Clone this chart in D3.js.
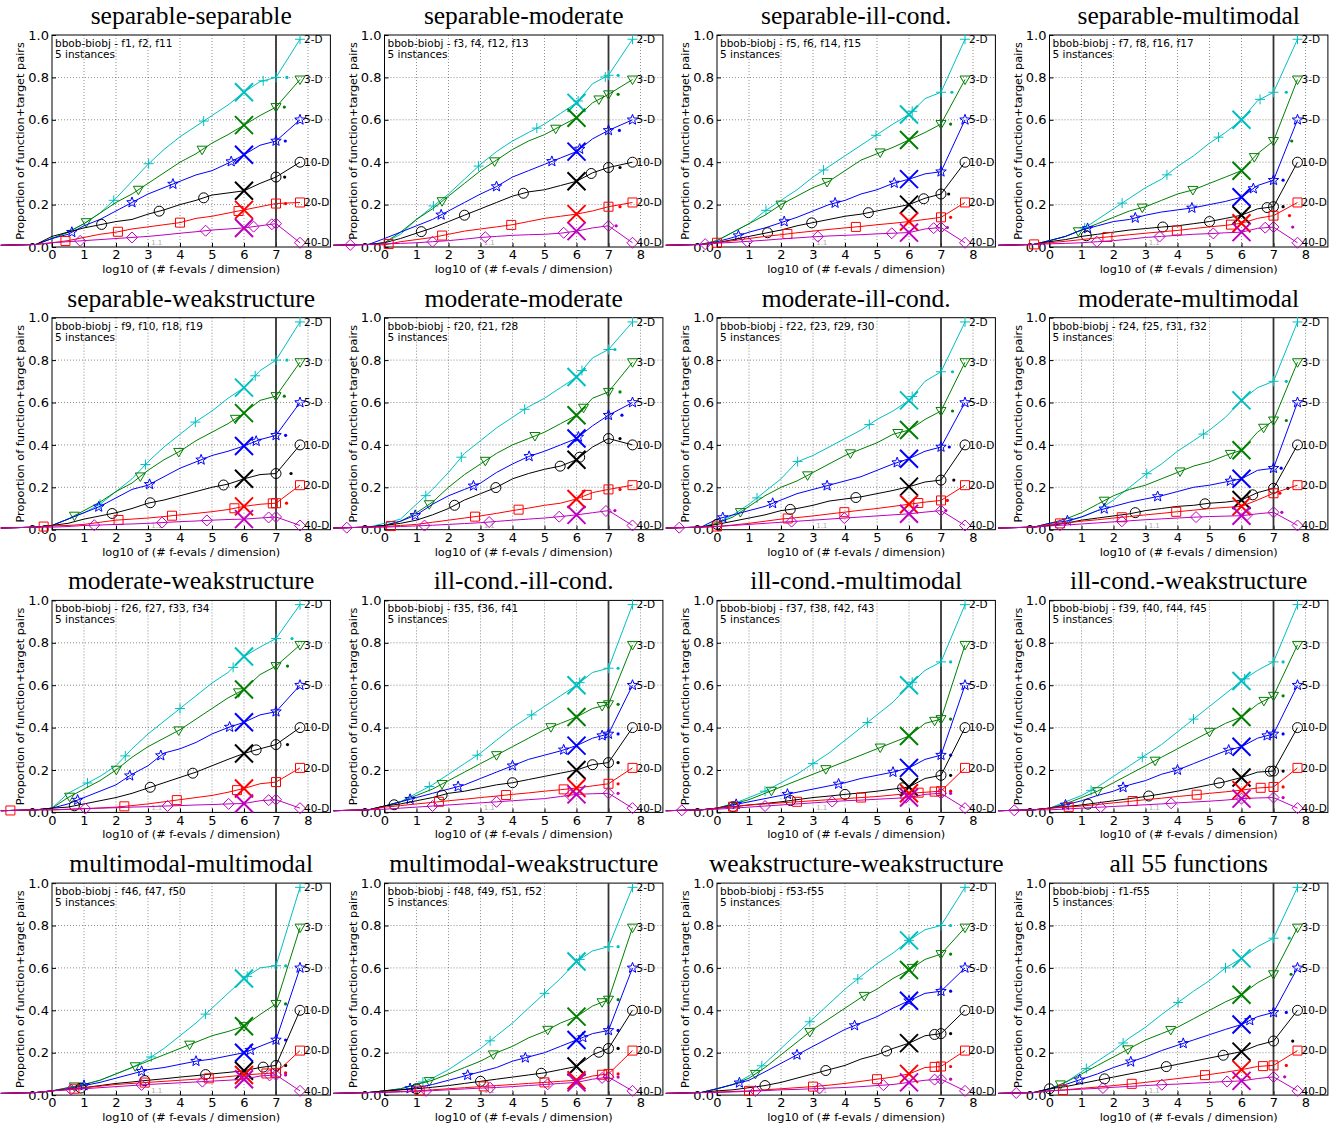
<!DOCTYPE html>
<html>
<head>
<meta charset="utf-8">
<script src="https://cdn.jsdelivr.net/npm/d3@7"></script>
<style>
body { margin: 0; background: #fff; }
text { font-family: "DejaVu Sans", sans-serif; }
.title { font-family: "Liberation Serif", serif; font-size: 25.5px; }
</style>
</head>
<body>
<svg width="1341" height="1129"></svg>
<script>
// dimensions and where each line ends on the right
const dims = ["2-D", "3-D", "5-D", "10-D", "20-D", "40-D"];
const dimEnd = [0.98, 0.79, 0.60, 0.40, 0.21, 0.02];
const endX = 7.75;
const budgets = [0, 0.5, 1, 1.5, 2, 2.5, 3, 3.5, 4, 4.5, 5, 5.5, 6, 6.5, 7];
const tailX = [-1.6, -0.5];
const tailY = [0.008, 0.012];

const titles = ["separable-separable", "separable-moderate", "separable-ill-cond.", "separable-multimodal",
  "separable-weakstructure", "moderate-moderate", "moderate-ill-cond.", "moderate-multimodal",
  "moderate-weakstructure", "ill-cond.-ill-cond.", "ill-cond.-multimodal", "ill-cond.-weakstructure",
  "multimodal-multimodal", "multimodal-weakstructure", "weakstructure-weakstructure", "all 55 functions"];
const funcs = ["f1, f2, f11", "f3, f4, f12, f13", "f5, f6, f14, f15", "f7, f8, f16, f17",
  "f9, f10, f18, f19", "f20, f21, f28", "f22, f23, f29, f30", "f24, f25, f31, f32",
  "f26, f27, f33, f34", "f35, f36, f41", "f37, f38, f42, f43", "f39, f40, f44, f45",
  "f46, f47, f50", "f48, f49, f51, f52", "f53-f55", "f1-f55"];

// proportion of solved pairs at each budget, one row per dimension
const sepSepY = [
  [0.04,0.07,0.11,0.16,0.23,0.31,0.39,0.46,0.52,0.57,0.62,0.67,0.73,0.78,0.80],
  [0.04,0.07,0.11,0.16,0.21,0.25,0.30,0.35,0.40,0.44,0.49,0.53,0.575,0.62,0.66],
  [0.04,0.06,0.10,0.13,0.17,0.21,0.25,0.28,0.31,0.34,0.36,0.395,0.435,0.48,0.50],
  [0.05,0.07,0.09,0.105,0.12,0.13,0.155,0.175,0.20,0.22,0.245,0.255,0.265,0.30,0.33],
  [0.02,0.03,0.045,0.06,0.07,0.085,0.095,0.105,0.115,0.135,0.145,0.16,0.175,0.19,0.205],
  [0.02,0.025,0.03,0.035,0.04,0.045,0.05,0.057,0.065,0.072,0.08,0.085,0.09,0.10,0.11]];
const sepSepMarks = [[1.93,3.02,4.74,6.6,7],[1.07,2.7,4.69,7],[0.62,2.5,3.78,5.6,7],[1.55,3.35,4.74,7],[0.42,2.06,4.0,5.83,7],[0.88,2.5,4.8,6.3,6.87,7]];
const sepSepDots = [7.34,7.26,7.29,7.27,7.3,null];

const sepModY = [
  [0.02,0.06,0.13,0.19,0.25,0.32,0.39,0.45,0.50,0.54,0.58,0.63,0.68,0.77,0.81],
  [0.02,0.07,0.13,0.18,0.24,0.30,0.36,0.41,0.46,0.50,0.53,0.57,0.61,0.68,0.72],
  [0.04,0.07,0.10,0.13,0.17,0.21,0.25,0.285,0.33,0.36,0.39,0.42,0.45,0.51,0.55],
  [0.02,0.04,0.065,0.09,0.12,0.15,0.18,0.21,0.24,0.26,0.27,0.29,0.31,0.35,0.375],
  [0.01,0.025,0.035,0.045,0.06,0.075,0.085,0.095,0.105,0.12,0.135,0.145,0.155,0.17,0.19],
  [0.015,0.017,0.02,0.025,0.03,0.037,0.045,0.05,0.055,0.058,0.06,0.065,0.075,0.09,0.10]];
const sepModMarks = [[1.53,2.94,4.76,6.05,6.9,7],[1.8,3.44,5.35,6.7,7],[1.77,3.5,5.23,6.1,7],[1.15,2.5,4.34,6.46,7],[0.13,1.8,3.96,7],[-1.07,1.5,3.15,5.6,7]];
const sepModDots = [7.3,7.3,7.34,7.36,7.36,7.24];

const sepIllY = [
  [0.03,0.07,0.11,0.17,0.22,0.27,0.33,0.38,0.43,0.48,0.53,0.58,0.625,0.70,0.73],
  [0.03,0.07,0.11,0.15,0.20,0.24,0.28,0.31,0.36,0.41,0.44,0.47,0.505,0.54,0.58],
  [0.025,0.045,0.07,0.09,0.115,0.14,0.17,0.20,0.22,0.25,0.27,0.30,0.32,0.345,0.355],
  [0.02,0.035,0.05,0.065,0.08,0.10,0.115,0.13,0.145,0.155,0.17,0.185,0.20,0.23,0.25],
  [0.02,0.03,0.04,0.05,0.058,0.067,0.075,0.083,0.09,0.097,0.105,0.112,0.12,0.13,0.14],
  [0.018,0.022,0.027,0.032,0.038,0.043,0.048,0.052,0.055,0.058,0.062,0.065,0.068,0.085,0.092]];
const sepIllMarks = [[1.53,3.33,4.97,6.1,7],[2.0,3.44,5.1,7],[0.67,2.1,3.69,5.54,7],[1.58,2.96,4.73,6.46,7],[0,2.2,4.34,7],[-0.37,0.94,3.15,5.46,6.77,7]];
const sepIllDots = [7.34,7.3,null,7.24,7.3,7.2];

const sepMultiY = [
  [0.03,0.05,0.08,0.13,0.18,0.23,0.28,0.32,0.38,0.43,0.49,0.54,0.60,0.69,0.73],
  [0.03,0.05,0.08,0.11,0.14,0.17,0.19,0.22,0.25,0.27,0.30,0.33,0.36,0.44,0.50],
  [0.03,0.05,0.08,0.10,0.12,0.13,0.15,0.165,0.175,0.185,0.20,0.215,0.235,0.29,0.315],
  [0.025,0.035,0.05,0.06,0.07,0.08,0.087,0.094,0.10,0.11,0.12,0.135,0.15,0.18,0.19],
  [0.02,0.027,0.035,0.043,0.05,0.058,0.065,0.072,0.078,0.087,0.095,0.102,0.112,0.135,0.148],
  [0.015,0.017,0.02,0.025,0.03,0.037,0.045,0.05,0.055,0.06,0.063,0.067,0.07,0.088,0.094]];
const sepMultiMarks = [[1.1,2.27,3.67,5.28,6.58,7],[0.9,2.9,4.48,6.4,7],[1.19,2.68,4.45,6.37,7],[1.15,3.54,5.0,6.8,7],[-0.48,1.81,3.98,5.67,7],[1.48,3.44,5.12,6.74,7]];
const sepMultiDots = [7.4,7.57,7.3,7.3,7.5,7.6];

const sepWeakY = [
  [0.02,0.05,0.08,0.12,0.18,0.24,0.32,0.39,0.45,0.51,0.56,0.62,0.67,0.75,0.80],
  [0.02,0.05,0.09,0.13,0.18,0.22,0.28,0.33,0.37,0.42,0.46,0.50,0.55,0.61,0.63],
  [0.02,0.05,0.08,0.11,0.15,0.19,0.21,0.25,0.29,0.32,0.35,0.37,0.395,0.425,0.445],
  [0.02,0.03,0.05,0.065,0.08,0.10,0.125,0.14,0.16,0.18,0.20,0.215,0.24,0.26,0.265],
  [0.018,0.02,0.025,0.035,0.045,0.05,0.055,0.062,0.07,0.077,0.085,0.095,0.11,0.12,0.125],
  [0.012,0.015,0.02,0.022,0.025,0.027,0.03,0.034,0.038,0.041,0.045,0.048,0.05,0.055,0.06]];
const sepWeakMarks = [[1.5,2.92,4.48,6.35,7],[0.7,2.76,3.96,5.73,7],[1.46,3.05,4.66,6.38,7],[1.88,3.07,5.36,7],[-0.26,2.08,3.75,5.7,6.9,7],[1.32,3.44,4.84,6.77,7]];
const sepWeakDots = [7.34,7.26,7.3,7.47,7.33,null];

const modModY = [
  [0.03,0.05,0.12,0.19,0.27,0.36,0.42,0.48,0.53,0.58,0.62,0.67,0.72,0.81,0.85],
  [0.02,0.04,0.08,0.13,0.20,0.26,0.31,0.36,0.40,0.43,0.46,0.50,0.54,0.62,0.65],
  [0.02,0.04,0.07,0.12,0.16,0.19,0.22,0.27,0.31,0.345,0.37,0.40,0.43,0.49,0.54],
  [0.02,0.03,0.045,0.07,0.10,0.14,0.17,0.20,0.24,0.265,0.285,0.30,0.33,0.39,0.43],
  [0.015,0.02,0.025,0.035,0.045,0.055,0.065,0.077,0.09,0.102,0.115,0.125,0.145,0.175,0.19],
  [0.012,0.015,0.018,0.021,0.025,0.029,0.033,0.039,0.045,0.05,0.055,0.062,0.07,0.08,0.09]];
const modModMarks = [[1.29,2.4,4.38,6.17,7],[1.4,3.15,4.7,6.22,7],[0.96,2.78,4.52,6.06,7],[2.19,3.48,5.49,6.1,7],[0.2,2.83,4.19,6.32,7],[-1.18,1.25,3.27,5.46,6.92]];
const modModDots = [7.2,7.36,7.42,7.36,7.36,7.2];

const modIllY = [
  [0.03,0.07,0.12,0.18,0.24,0.32,0.35,0.39,0.43,0.47,0.52,0.56,0.61,0.70,0.745],
  [0.03,0.06,0.11,0.16,0.20,0.23,0.27,0.31,0.35,0.38,0.41,0.45,0.47,0.52,0.56],
  [0.05,0.07,0.09,0.11,0.14,0.17,0.19,0.21,0.23,0.25,0.28,0.31,0.335,0.37,0.39],
  [0.025,0.04,0.055,0.07,0.09,0.10,0.115,0.135,0.145,0.155,0.17,0.185,0.203,0.225,0.234],
  [0.015,0.022,0.03,0.04,0.05,0.057,0.065,0.074,0.083,0.092,0.10,0.11,0.12,0.13,0.138],
  [0.015,0.02,0.025,0.03,0.035,0.04,0.045,0.05,0.055,0.06,0.065,0.07,0.075,0.083,0.09]];
const modIllMarks = [[1.25,2.52,4.76,6.1,7],[0.73,2.83,4.17,5.65,7],[0.18,1.74,3.44,5.63,7],[0,2.29,4.34,7],[0,2.21,3.98,6.29,7],[-1.18,2.33,3.98,7]];
const modIllDots = [7.36,7.36,7.26,7.4,7.2,7.15];

const modMultiY = [
  [0.02,0.035,0.06,0.09,0.14,0.20,0.26,0.31,0.37,0.42,0.47,0.53,0.61,0.67,0.70],
  [0.03,0.05,0.08,0.12,0.16,0.19,0.21,0.24,0.27,0.30,0.32,0.35,0.375,0.46,0.515],
  [0.03,0.04,0.06,0.09,0.11,0.13,0.145,0.16,0.18,0.20,0.21,0.225,0.24,0.28,0.29],
  [0.02,0.03,0.045,0.055,0.065,0.075,0.09,0.10,0.11,0.115,0.125,0.13,0.14,0.175,0.195],
  [0.025,0.032,0.04,0.047,0.055,0.062,0.07,0.077,0.085,0.092,0.10,0.105,0.11,0.14,0.172],
  [0.018,0.022,0.027,0.032,0.037,0.042,0.047,0.051,0.055,0.059,0.062,0.064,0.066,0.075,0.082]];
const modMultiMarks = [[3.04,4.81,7],[1.71,4.08,5.65,6.69,7],[0.56,1.71,3.38,5.65,7],[2.68,4.86,6.35,7],[0.33,2.26,3.96,7],[0.33,2.26,4.58,6.17,7]];
const modMultiDots = [7.4,7.4,7.24,7.45,7.2,7.26];

const modWeakY = [
  [0.02,0.09,0.13,0.17,0.22,0.30,0.37,0.43,0.49,0.55,0.61,0.66,0.735,0.78,0.82],
  [0.02,0.07,0.11,0.15,0.20,0.26,0.31,0.35,0.39,0.44,0.49,0.54,0.58,0.65,0.69],
  [0.02,0.04,0.07,0.10,0.13,0.18,0.22,0.28,0.30,0.33,0.37,0.40,0.425,0.46,0.475],
  [0.02,0.025,0.04,0.055,0.07,0.09,0.115,0.14,0.165,0.19,0.22,0.25,0.278,0.30,0.32],
  [0.012,0.014,0.017,0.021,0.025,0.032,0.04,0.05,0.06,0.07,0.08,0.095,0.113,0.135,0.143],
  [0.012,0.015,0.018,0.02,0.022,0.025,0.027,0.03,0.032,0.035,0.037,0.04,0.042,0.055,0.06]];
const modWeakMarks = [[1.11,2.29,4.0,5.66,7],[0.55,2.01,3.96,5.83,7],[0.8,2.43,3.4,5.55,7],[0.7,3.07,4.4,6.38,7],[-1.3,2.26,3.9,5.78,7],[1.04,3.61,5.52,6.77,7]];
const modWeakDots = [7.5,7.36,null,7.36,null,null];

const illIllY = [
  [0.03,0.05,0.09,0.13,0.18,0.23,0.28,0.34,0.40,0.45,0.50,0.55,0.60,0.66,0.68],
  [0.03,0.05,0.08,0.11,0.15,0.19,0.23,0.27,0.31,0.35,0.39,0.42,0.45,0.49,0.51],
  [0.03,0.05,0.07,0.09,0.11,0.13,0.16,0.19,0.22,0.25,0.27,0.29,0.315,0.35,0.37],
  [0.03,0.04,0.055,0.07,0.09,0.10,0.115,0.13,0.14,0.155,0.17,0.185,0.20,0.225,0.235],
  [0.025,0.032,0.04,0.047,0.055,0.062,0.07,0.077,0.085,0.092,0.10,0.107,0.115,0.125,0.135],
  [0.015,0.02,0.025,0.03,0.035,0.04,0.045,0.05,0.055,0.06,0.065,0.075,0.085,0.088,0.09]];
const illIllMarks = [[1.4,2.9,4.6,6.1,7],[1.8,3.5,5.2,6.8,7],[0.8,2.3,4.0,5.6,6.8,7],[0.3,1.8,4.0,6.5,7],[1.7,3.8,5.6,7],[1.5,3.5,5.8,7]];
const illIllDots = [7.3,7.3,7.3,7.3,7.3,7.3];

const illMultiY = [
  [0.02,0.04,0.07,0.10,0.14,0.18,0.23,0.28,0.34,0.40,0.46,0.52,0.60,0.67,0.71],
  [0.02,0.04,0.06,0.09,0.12,0.15,0.18,0.21,0.24,0.27,0.30,0.33,0.36,0.42,0.44],
  [0.02,0.035,0.05,0.065,0.08,0.095,0.11,0.125,0.14,0.16,0.175,0.19,0.21,0.25,0.27],
  [0.02,0.027,0.035,0.042,0.05,0.06,0.07,0.077,0.085,0.092,0.10,0.11,0.12,0.16,0.175],
  [0.02,0.027,0.035,0.04,0.045,0.05,0.055,0.06,0.065,0.07,0.075,0.082,0.09,0.095,0.10],
  [0.015,0.02,0.025,0.03,0.035,0.04,0.045,0.05,0.055,0.058,0.062,0.066,0.07,0.085,0.09]];
const illMultiMarks = [[1.5,3.0,4.7,6.1,7],[1.7,3.4,5.1,6.8,7],[0.6,2.2,3.8,5.5,7],[0.5,2.3,4.0,5.8,7],[0.5,2.5,4.5,6.3,6.8,7],[-1.1,1.5,3.6,5.9,7]];
const illMultiDots = [7.3,7.3,7.3,7.3,7.3,7.3];

const illWeakY = [
  [0.02,0.05,0.08,0.12,0.17,0.22,0.27,0.32,0.38,0.44,0.50,0.56,0.62,0.67,0.71],
  [0.02,0.04,0.07,0.10,0.14,0.18,0.22,0.26,0.30,0.34,0.38,0.42,0.45,0.51,0.55],
  [0.02,0.035,0.055,0.08,0.10,0.13,0.15,0.18,0.20,0.23,0.26,0.29,0.31,0.35,0.37],
  [0.02,0.027,0.035,0.045,0.055,0.065,0.075,0.087,0.10,0.115,0.13,0.145,0.165,0.19,0.195],
  [0.02,0.025,0.03,0.037,0.045,0.052,0.06,0.067,0.075,0.082,0.09,0.097,0.105,0.115,0.12],
  [0.012,0.016,0.02,0.024,0.028,0.032,0.036,0.04,0.045,0.049,0.053,0.058,0.065,0.068,0.07]];
const illWeakMarks = [[1.3,2.9,4.5,6.1,7],[1.5,3.3,5.0,6.7,7],[0.5,2.3,4.0,5.6,6.8,7],[1.2,3.1,5.3,6.9,7],[0.6,2.6,4.6,6.6,7],[-1.1,1.6,3.8,6.0,7]];
const illWeakDots = [7.3,7.3,7.3,7.3,7.3,7.3];

const multiMultiY = [
  [0.02,0.035,0.05,0.07,0.10,0.13,0.17,0.22,0.28,0.34,0.41,0.48,0.55,0.60,0.61],
  [0.02,0.035,0.05,0.07,0.10,0.13,0.16,0.19,0.22,0.25,0.28,0.30,0.325,0.38,0.43],
  [0.02,0.03,0.045,0.06,0.08,0.10,0.12,0.13,0.145,0.16,0.17,0.185,0.20,0.23,0.26],
  [0.02,0.027,0.035,0.045,0.055,0.062,0.07,0.077,0.085,0.092,0.10,0.107,0.115,0.13,0.14],
  [0.02,0.027,0.035,0.042,0.05,0.055,0.06,0.065,0.07,0.075,0.08,0.087,0.095,0.10,0.105],
  [0.02,0.025,0.03,0.035,0.04,0.045,0.05,0.054,0.058,0.062,0.066,0.07,0.075,0.09,0.095]];
const multiMultiMarks = [[1.0,3.1,4.8,6.1,7],[0.7,2.6,4.3,6.0,7],[1.0,2.8,4.5,6.2,7],[0.9,2.9,4.8,6.6,7],[0.7,2.9,4.9,6.7,7],[0.6,2.8,4.7,6.8,7]];
const multiMultiDots = [7.3,7.3,7.3,7.3,7.3,7.3];

const multiWeakY = [
  [0.02,0.03,0.05,0.08,0.12,0.17,0.22,0.28,0.34,0.41,0.48,0.55,0.63,0.68,0.70],
  [0.02,0.03,0.05,0.07,0.10,0.13,0.16,0.20,0.23,0.27,0.30,0.34,0.37,0.42,0.45],
  [0.02,0.025,0.035,0.05,0.07,0.09,0.11,0.13,0.16,0.18,0.20,0.23,0.26,0.29,0.305],
  [0.02,0.025,0.03,0.037,0.045,0.055,0.065,0.075,0.085,0.095,0.105,0.12,0.135,0.19,0.22],
  [0.015,0.017,0.02,0.025,0.03,0.035,0.04,0.045,0.05,0.055,0.06,0.065,0.07,0.09,0.10],
  [0.012,0.015,0.018,0.021,0.025,0.029,0.033,0.036,0.04,0.045,0.05,0.055,0.06,0.075,0.085]];
const multiWeakMarks = [[1.2,3.3,5.0,6.1,7],[1.4,3.4,5.1,6.8,7],[0.8,2.6,4.4,6.2,7],[1.0,3.0,4.9,6.7,7],[1.1,3.1,5.0,6.8,7],[1.3,3.3,5.1,6.8,7]];
const multiWeakDots = [7.3,7.3,7.3,7.3,7.3,7.3];

const weakWeakY = [
  [0.03,0.05,0.09,0.15,0.22,0.29,0.36,0.43,0.50,0.56,0.62,0.67,0.73,0.78,0.80],
  [0.03,0.05,0.08,0.13,0.19,0.25,0.31,0.36,0.41,0.46,0.50,0.55,0.59,0.64,0.665],
  [0.03,0.05,0.07,0.11,0.15,0.19,0.23,0.27,0.31,0.34,0.37,0.41,0.445,0.48,0.49],
  [0.02,0.025,0.035,0.045,0.06,0.08,0.10,0.12,0.14,0.17,0.19,0.22,0.245,0.28,0.29],
  [0.015,0.017,0.02,0.025,0.03,0.035,0.04,0.047,0.055,0.065,0.075,0.085,0.10,0.13,0.135],
  [0.012,0.015,0.018,0.021,0.025,0.027,0.03,0.033,0.036,0.04,0.045,0.05,0.06,0.07,0.075]];
const weakWeakMarks = [[1.4,2.9,4.4,6.0,7],[1.2,2.9,4.6,6.1,7],[0.7,2.5,4.3,6.0,7],[1.5,3.4,5.3,6.8,7],[1.0,3.0,5.0,6.8,7],[1.2,3.2,5.2,6.8,7]];
const weakWeakDots = [7.3,7.3,7.3,7.3,7.3,7.3];

const allY = [
  [0.025,0.06,0.11,0.16,0.21,0.27,0.32,0.38,0.435,0.49,0.54,0.60,0.645,0.70,0.74],
  [0.03,0.06,0.10,0.14,0.18,0.22,0.26,0.29,0.32,0.36,0.40,0.44,0.473,0.53,0.57],
  [0.03,0.05,0.075,0.10,0.13,0.155,0.18,0.21,0.235,0.26,0.285,0.31,0.333,0.37,0.39],
  [0.03,0.04,0.055,0.07,0.085,0.10,0.115,0.13,0.145,0.16,0.175,0.19,0.205,0.235,0.255],
  [0.02,0.025,0.032,0.038,0.045,0.052,0.06,0.069,0.078,0.087,0.097,0.108,0.12,0.135,0.14],
  [0.02,0.024,0.028,0.032,0.037,0.041,0.045,0.049,0.052,0.056,0.06,0.064,0.067,0.078,0.086]];
const allMarks = [[1.15,2.3,4.02,5.5,7],[0.34,2.45,3.79,7],[0.94,2.54,4.18,6.26,7],[0,1.72,3.65,5.43,7],[0.42,2.57,4.86,6.67,7],[-1.04,1.67,3.51,5.55,7]];
const allDots = [7.49,7.55,7.4,7.6,7.4,7.35];

const panelY = [sepSepY, sepModY, sepIllY, sepMultiY, sepWeakY, modModY, modIllY, modMultiY,
  modWeakY, illIllY, illMultiY, illWeakY, multiMultiY, multiWeakY, weakWeakY, allY];
const panelMarks = [sepSepMarks, sepModMarks, sepIllMarks, sepMultiMarks, sepWeakMarks, modModMarks, modIllMarks, modMultiMarks,
  modWeakMarks, illIllMarks, illMultiMarks, illWeakMarks, multiMultiMarks, multiWeakMarks, weakWeakMarks, allMarks];
const panelDots = [sepSepDots, sepModDots, sepIllDots, sepMultiDots, sepWeakDots, modModDots, modIllDots, modMultiDots,
  modWeakDots, illIllDots, illMultiDots, illWeakDots, multiMultiDots, multiWeakDots, weakWeakDots, allDots];

// styles
const dimColors = ["#00bfbf", "#008000", "#0000ff", "#000000", "#ff0000", "#bf00bf"];
const dimShapes = ["plus", "tri", "star", "circle", "square", "diamond"];

const svg = d3.select("svg");
const plotW = 278.4, plotH = 212;
const x = d3.scaleLinear().domain([0, 8.7]).range([0, plotW]);
const y = d3.scaleLinear().domain([0, 1]).range([plotH, 0]);

function starPath(ro, ri) {
    let p = [];
    for (let k = 0; k < 10; k++) {
        let a = -Math.PI / 2 + k * Math.PI / 5;
        let r = k % 2 ? ri : ro;
        p.push([r * Math.cos(a), r * Math.sin(a)]);
    }
    return "M" + p.map(d => d.join(",")).join("L") + "Z";
}

function shapePath(kind) {
    switch (kind) {
        case "plus": return "M-5,0H5M0,-5V5";
        case "tri": return "M-5,-3.5L5,-3.5L0,5Z";
        case "star": return starPath(5.5, 2.3);
        case "circle": return "M5,0A5,5 0 1,1 -5,0A5,5 0 1,1 5,0Z";
        case "square": return "M-4.5,-4.5H4.5V4.5H-4.5Z";
        default: return "M0,-5.5L5.5,0L0,5.5L-5.5,0Z";
    }
}

function valueAt(pts, v) {
    for (let i = 1; i < pts.length; i++) {
        if (v <= pts[i][0]) {
            let [x0, y0] = pts[i - 1], [x1, y1] = pts[i];
            return y0 + (y1 - y0) * (v - x0) / (x1 - x0);
        }
    }
    return pts[pts.length - 1][1];
}

const line = d3.line().x(d => x(d[0])).y(d => y(d[1]));

titles.forEach((title, i) => {
    const col = i % 4, row = Math.floor(i / 4);
    const left = 52 + col * 332.5;
    const top = 35 + row * 282.7;
    const g = svg.append("g").attr("transform", `translate(${left},${top})`);

    g.append("text").attr("class", "title")
        .attr("x", plotW / 2).attr("y", -11)
        .attr("text-anchor", "middle")
        .text(title);

    // dotted grid
    g.selectAll(".vg").data(d3.range(1, 9)).enter().append("line")
        .attr("x1", d => x(d)).attr("x2", d => x(d))
        .attr("y1", 0).attr("y2", plotH)
        .attr("stroke", "#000").attr("stroke-width", 0.8)
        .attr("stroke-dasharray", "1,2").attr("opacity", 0.55);
    g.selectAll(".hg").data([0.2, 0.4, 0.6, 0.8]).enter().append("line")
        .attr("x1", 0).attr("x2", plotW)
        .attr("y1", d => y(d)).attr("y2", d => y(d))
        .attr("stroke", "#000").attr("stroke-width", 0.8)
        .attr("stroke-dasharray", "1,2").attr("opacity", 0.55);

    // axes
    const xAxis = d3.axisBottom(x).tickValues(d3.range(0, 9)).tickSize(-4).tickPadding(3);
    const yAxis = d3.axisLeft(y).tickValues(d3.range(0, 1.01, 0.2)).tickFormat(d3.format(".1f")).tickSize(-4).tickPadding(3);
    const gx = g.append("g").attr("transform", `translate(0,${plotH})`).call(xAxis);
    const gy = g.append("g").call(yAxis);
    [gx, gy].forEach(a => {
        a.select(".domain").remove();
        a.selectAll("text").attr("font-size", 13).attr("fill", "#000")
            .attr("font-family", "DejaVu Sans, sans-serif");
    });

    g.append("rect").attr("width", plotW).attr("height", plotH)
        .attr("fill", "none").attr("stroke", "#000").attr("stroke-width", 1);

    g.append("line").attr("x1", x(7)).attr("x2", x(7)).attr("y1", 0).attr("y2", plotH)
        .attr("stroke", "#333").attr("stroke-width", 1.8);

    g.append("text").attr("x", x(3.1)).attr("y", plotH - 2)
        .attr("font-size", 7).attr("fill", "#aaa").text("1.1");

    g.append("text").attr("x", 3).attr("y", 12).attr("font-size", 10.5).text("bbob-biobj - " + funcs[i]);
    g.append("text").attr("x", 3).attr("y", 23).attr("font-size", 10.5).text("5 instances");

    g.append("text").attr("transform", `translate(-28,${plotH / 2}) rotate(-90)`)
        .attr("text-anchor", "middle").attr("font-size", 11.3)
        .text("Proportion of function+target pairs");
    g.append("text").attr("x", plotW / 2).attr("y", plotH + 26)
        .attr("text-anchor", "middle").attr("font-size", 11.3)
        .text("log10 of (# f-evals / dimension)");

    dims.forEach((dim, j) => {
        const color = dimColors[j];
        const pts = tailX.map((t, k) => [t, tailY[k]])
            .concat(budgets.map((b, k) => [b, panelY[i][j][k]]));
        const full = pts.concat([[endX, dimEnd[j]]]);

        g.append("path").attr("d", line(full))
            .attr("fill", "none").attr("stroke", color).attr("stroke-width", 1);

        const markPts = panelMarks[i][j].map(v => [v, valueAt(pts, v)]).concat([[endX, dimEnd[j]]]);
        g.selectAll(null).data(markPts).enter().append("path")
            .attr("transform", d => `translate(${x(d[0])},${y(d[1])})`)
            .attr("d", shapePath(dimShapes[j]))
            .attr("fill", "none").attr("stroke", color).attr("stroke-width", 1);

        g.append("path")
            .attr("transform", `translate(${x(6)},${y(valueAt(pts, 6))})`)
            .attr("d", "M-9,-9L9,9M9,-9L-9,9")
            .attr("stroke", color).attr("stroke-width", 2);

        const dx = panelDots[i][j];
        if (dx !== null) {
            g.append("circle").attr("cx", x(dx)).attr("cy", y(valueAt(pts, 7)))
                .attr("r", 1.6).attr("fill", color);
        }

        g.append("text").attr("x", x(endX) + 4).attr("y", y(dimEnd[j]))
            .attr("dy", "0.35em").attr("font-size", 10.5).text(dim);
    });
});
</script>
</body>
</html>
